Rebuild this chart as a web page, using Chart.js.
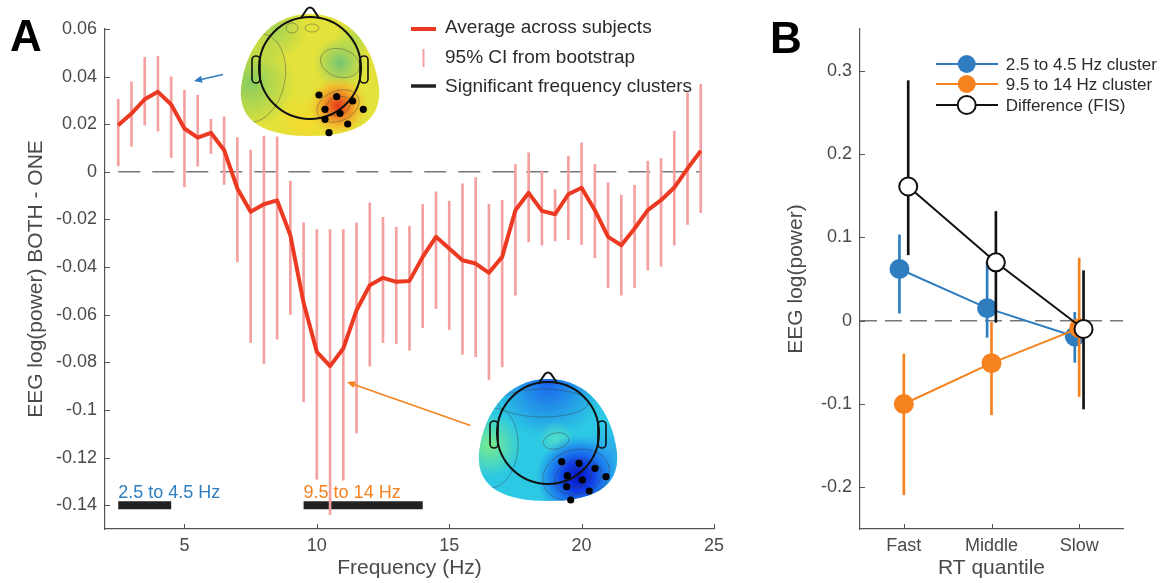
<!DOCTYPE html>
<html><head><meta charset="utf-8">
<script src="https://cdn.jsdelivr.net/npm/chart.js@4.4.0/dist/chart.umd.min.js"></script>
<style>
html,body{margin:0;padding:0;background:#fff;width:1161px;height:583px;overflow:hidden;}
#wa{position:absolute;left:0;top:0;width:760px;height:583px;}
#wb{position:absolute;left:760px;top:0;width:401px;height:583px;}
</style></head><body>
<div id="wa"><canvas id="ca" width="760" height="583"></canvas></div>
<div id="wb"><canvas id="cb" width="401" height="583"></canvas></div>
<script>
// ---------------- Panel A data ----------------
const freqA = [2.5,3,3.5,4,4.5,5,5.5,6,6.5,7,7.5,8,8.5,9,9.5,10,10.5,11,11.5,12,12.5,13,13.5,14,14.5,15,15.5,16,16.5,17,17.5,18,18.5,19,19.5,20,20.5,21,21.5,22,22.5,23,23.5,24,24.5];
const avgA = [0.0196,0.0245,0.0305,0.0336,0.0283,0.0182,0.0144,0.0164,0.0091,-0.0070,-0.0168,-0.0136,-0.0120,-0.0266,-0.0550,-0.0756,-0.0816,-0.0742,-0.0581,-0.0476,-0.0445,-0.0462,-0.0458,-0.0357,-0.0273,-0.0322,-0.0371,-0.0385,-0.0424,-0.0357,-0.0161,-0.0088,-0.0164,-0.0178,-0.0094,-0.0067,-0.0161,-0.0273,-0.0308,-0.0238,-0.0161,-0.0119,-0.0066,0.0014,0.0088];
const ciLowA = [0.0025,0.0108,0.0196,0.0171,0.0060,-0.0063,0.0024,0.0077,-0.0053,-0.0378,-0.0717,-0.0805,-0.0703,-0.0599,-0.0966,-0.1291,-0.1440,-0.1295,-0.1097,-0.0816,-0.0717,-0.0721,-0.0749,-0.0655,-0.0574,-0.0662,-0.0766,-0.0777,-0.0872,-0.0819,-0.0518,-0.0294,-0.0308,-0.0290,-0.0284,-0.0305,-0.0361,-0.0486,-0.0518,-0.0486,-0.0413,-0.0396,-0.0308,-0.0221,-0.0171];
const ciHighA = [0.0305,0.0378,0.0481,0.0486,0.0399,0.0343,0.0322,0.0221,0.0231,0.0144,0.0091,0.0150,0.0147,-0.0039,-0.0214,-0.0242,-0.0242,-0.0242,-0.0214,-0.0130,-0.0191,-0.0232,-0.0228,-0.0137,-0.0084,-0.0123,-0.0050,-0.0024,-0.0136,-0.0120,0.0031,0.0080,0.0004,-0.0074,0.0066,0.0122,0.0031,-0.0046,-0.0098,-0.0056,0.0045,0.0056,0.0171,0.0332,0.0368];
const clusterStartA = [2.5, 9.5];
const clusterEndA = [4.5, 14];
const clusterLevelA = -0.14;
const clusterLabelsA = ['2.5 to 4.5 Hz', '9.5 to 14 Hz'];
const xTicksA = [5, 10, 15, 20, 25];
const yTicksA = [-0.14, -0.12, -0.1, -0.08, -0.06, -0.04, -0.02, 0, 0.02, 0.04, 0.06];
const yTickLabelsA = ['-0.14', '-0.12', '-0.1', '-0.08', '-0.06', '-0.04', '-0.02', '0', '0.02', '0.04', '0.06'];
const legendLabelsA = ['Average across subjects', '95% CI from bootstrap', 'Significant frequency clusters'];

// ---------------- Panel B data ----------------
const categoriesB = ['Fast', 'Middle', 'Slow'];
const seriesNamesB = ['2.5 to 4.5 Hz cluster', '9.5 to 14 Hz cluster', 'Difference (FIS)'];
const lowBandB = [0.062, 0.015, -0.019];
const lowBandLoB = [0.009, -0.020, -0.050];
const lowBandHiB = [0.103, 0.070, 0.010];
const alphaBandB = [-0.100, -0.051, -0.009];
const alphaBandLoB = [-0.209, -0.113, -0.091];
const alphaBandHiB = [-0.040, -0.002, 0.075];
const diffB = [0.161, 0.070, -0.010];
const diffLoB = [0.079, -0.002, -0.106];
const diffHiB = [0.288, 0.131, 0.060];
const yTicksB = [-0.2, -0.1, 0, 0.1, 0.2, 0.3];
const yTickLabelsB = ['-0.2', '-0.1', '0', '0.1', '0.2', '0.3'];

// ---------------- styles ----------------
const FONT = "'Liberation Sans', Arial, Helvetica, sans-serif";
const TXT = '#4a4a4a';
const AX = '#555555';
const RED = '#ec3a22';
const PINK = '#f5a0a0';
const BLUE = '#2f7dbf';
const ORANGE = '#f5821f';
Chart.defaults.font.family = FONT;
Chart.defaults.color = TXT;

function labelFor(ticksArr, labelsArr) {
  return v => { const i = ticksArr.findIndex(t => Math.abs(t - v) < 1e-9); return i >= 0 ? labelsArr[i] : ''; };
}

const inwardTicks = {
  id: 'inwardTicks',
  afterDatasetsDraw(chart) {
    const {ctx, scales: {x, y}} = chart;
    ctx.save(); ctx.strokeStyle = AX; ctx.lineWidth = 1;
    x.ticks.forEach(t => { const p = Math.round(x.getPixelForValue(t.value)) + 0.5;
      ctx.beginPath(); ctx.moveTo(p, y.bottom); ctx.lineTo(p, y.bottom - 5); ctx.stroke(); });
    y.ticks.forEach(t => { const p = Math.round(y.getPixelForValue(t.value)) + 0.5;
      ctx.beginPath(); ctx.moveTo(x.left, p); ctx.lineTo(x.left + 5, p); ctx.stroke(); });
    ctx.restore();
  }
};

// topographic map inset (decorative)
function blob(ctx, cx, cy) {
  ctx.beginPath();
  ctx.moveTo(cx, cy - 54);
  ctx.bezierCurveTo(cx + 40, cy - 54, cx + 64, cy - 22, cx + 69, cy + 20);
  ctx.bezierCurveTo(cx + 72, cy + 56, cx + 42, cy + 68, cx, cy + 68);
  ctx.bezierCurveTo(cx - 42, cy + 68, cx - 72, cy + 56, cx - 69, cy + 20);
  ctx.bezierCurveTo(cx - 64, cy - 22, cx - 40, cy - 54, cx, cy - 54);
  ctx.closePath();
}
function spot(ctx, x, y, r, stops) {
  const g = ctx.createRadialGradient(x, y, 0, x, y, r);
  stops.forEach(s => g.addColorStop(s[0], s[1]));
  ctx.fillStyle = g; ctx.fillRect(x - r, y - r, 2 * r, 2 * r);
}
function ring(ctx, x, y, rx, ry, rot) {
  ctx.beginPath(); ctx.ellipse(x, y, rx, ry, rot || 0, 0, Math.PI * 2); ctx.stroke();
}
function drawTopo(ctx, cx, cy, kind, dots) {
  ctx.save();
  blob(ctx, cx, cy); ctx.clip();
  if (kind === 'warm') {
    ctx.fillStyle = '#e2e23a'; ctx.fillRect(cx - 80, cy - 60, 160, 135);
    spot(ctx, cx - 60, cy + 15, 45, [[0, 'rgba(120,200,100,0.85)'], [1, 'rgba(120,200,100,0)']]);
    spot(ctx, cx - 35, cy - 38, 32, [[0, 'rgba(140,205,95,0.7)'], [1, 'rgba(140,205,95,0)']]);
    spot(ctx, cx + 30, cy - 5, 26, [[0, 'rgba(105,195,120,0.9)'], [1, 'rgba(105,195,120,0)']]);
    spot(ctx, cx + 45, cy - 30, 20, [[0, 'rgba(150,210,90,0.6)'], [1, 'rgba(150,210,90,0)']]);
    spot(ctx, cx - 5, cy + 55, 30, [[0, 'rgba(250,215,40,0.8)'], [1, 'rgba(250,215,40,0)']]);
    spot(ctx, cx + 28, cy + 38, 30, [[0, '#e43a1a'], [0.35, '#ef7a20'], [0.7, 'rgba(245,180,40,0.7)'], [1, 'rgba(245,200,50,0)']]);
    ctx.strokeStyle = 'rgba(70,70,70,0.55)'; ctx.lineWidth = 0.8;
    ring(ctx, cx + 28, cy + 38, 13, 9, -0.4); ring(ctx, cx + 28, cy + 38, 22, 15, -0.4);
    ring(ctx, cx + 30, cy - 5, 20, 14, 0.3); ring(ctx, cx - 18, cy - 40, 6, 5); ring(ctx, cx + 2, cy - 40, 7, 4);
    ring(ctx, cx - 55, cy + 10, 30, 45, 0.2);
  } else {
    ctx.fillStyle = '#2cc8e4'; ctx.fillRect(cx - 80, cy - 60, 160, 135);
    spot(ctx, cx, cy - 50, 55, [[0, 'rgba(25,95,235,0.95)'], [1, 'rgba(25,95,235,0)']]);
    spot(ctx, cx - 58, cy + 12, 32, [[0, 'rgba(130,240,130,0.9)'], [1, 'rgba(130,240,130,0)']]);
    spot(ctx, cx + 8, cy + 5, 18, [[0, 'rgba(90,225,190,0.8)'], [1, 'rgba(90,225,190,0)']]);
    spot(ctx, cx + 62, cy + 22, 30, [[0, 'rgba(45,150,240,0.7)'], [1, 'rgba(45,150,240,0)']]);
    spot(ctx, cx + 30, cy + 44, 42, [[0, '#0812c0'], [0.35, '#0f3ee8'], [0.7, 'rgba(25,110,240,0.7)'], [1, 'rgba(30,140,240,0)']]);
    ctx.strokeStyle = 'rgba(60,60,60,0.5)'; ctx.lineWidth = 0.8;
    ring(ctx, cx + 30, cy + 44, 14, 10, -0.3); ring(ctx, cx + 30, cy + 44, 24, 17, -0.3); ring(ctx, cx + 28, cy + 42, 34, 25, -0.3);
    ring(ctx, cx + 8, cy + 8, 13, 8, -0.2); ring(ctx, cx - 55, cy + 15, 25, 40, 0.1); ring(ctx, cx - 5, cy - 30, 45, 14, 0);
  }
  ctx.restore();
  ctx.save();
  ctx.strokeStyle = '#111'; ctx.lineWidth = 2;
  ctx.beginPath(); ctx.arc(cx, cy, 51, 0, Math.PI * 2); ctx.stroke();
  ctx.beginPath(); ctx.moveTo(cx - 9, cy - 50); ctx.lineTo(cx - 3, cy - 59); ctx.quadraticCurveTo(cx, cy - 62, cx + 3, cy - 59); ctx.lineTo(cx + 9, cy - 50); ctx.stroke();
  ctx.lineWidth = 1.6;
  [[cx - 58, cy - 12], [cx + 50, cy - 12]].forEach(p => {
    ctx.beginPath(); ctx.roundRect(p[0], p[1], 8, 27, 4); ctx.stroke();
  });
  ctx.fillStyle = '#000';
  dots.forEach(d => { ctx.beginPath(); ctx.arc(cx + d[0], cy + d[1], 3.6, 0, Math.PI * 2); ctx.fill(); });
  ctx.restore();
}
function arrow(ctx, x0, y0, x1, y1, color) {
  ctx.save(); ctx.strokeStyle = color; ctx.fillStyle = color; ctx.lineWidth = 1.6;
  const a = Math.atan2(y1 - y0, x1 - x0);
  ctx.beginPath(); ctx.moveTo(x0, y0); ctx.lineTo(x1 - 5 * Math.cos(a), y1 - 5 * Math.sin(a)); ctx.stroke();
  ctx.beginPath(); ctx.moveTo(x1, y1);
  ctx.lineTo(x1 - 8 * Math.cos(a) + 3.5 * Math.sin(a), y1 - 8 * Math.sin(a) - 3.5 * Math.cos(a));
  ctx.lineTo(x1 - 8 * Math.cos(a) - 3.5 * Math.sin(a), y1 - 8 * Math.sin(a) + 3.5 * Math.cos(a));
  ctx.closePath(); ctx.fill(); ctx.restore();
}

const panelAExtras = {
  id: 'panelAExtras',
  beforeDatasetsDraw(chart) {
    const {ctx, scales: {x, y}} = chart;
    ctx.save(); ctx.font = '18px ' + FONT; ctx.textBaseline = 'alphabetic';
    clusterLabelsA.forEach((t, i) => {
      ctx.fillStyle = i === 0 ? BLUE : ORANGE;
      ctx.fillText(t, x.getPixelForValue(clusterStartA[i]), y.getPixelForValue(clusterLevelA) - 7);
    });
    ctx.restore();
  },
  afterDraw(chart) {
    const ctx = chart.ctx;
    drawTopo(ctx, 310, 68, 'warm', [[9,27],[26.7,28.7],[42.7,33],[15,41.3],[30,45.3],[53.3,41.3],[15,51.3],[37.7,56],[19,64.7]]);
    drawTopo(ctx, 548, 433, 'cold', [[13.7,28.7],[31,30.3],[47,35.3],[19.3,42.7],[34.3,47],[58,43.7],[18.7,53.7],[41.3,58],[22.7,67]]);
    arrow(ctx, 223, 74.5, 194, 81, BLUE);
    arrow(ctx, 470.5, 425.5, 347, 382, ORANGE);
    // legend
    ctx.save();
    ctx.lineCap = 'butt';
    ctx.strokeStyle = RED; ctx.lineWidth = 4; ctx.beginPath(); ctx.moveTo(411, 29); ctx.lineTo(436, 29); ctx.stroke();
    ctx.strokeStyle = PINK; ctx.lineWidth = 2; ctx.beginPath(); ctx.moveTo(423.5, 49); ctx.lineTo(423.5, 67); ctx.stroke();
    ctx.strokeStyle = '#222'; ctx.lineWidth = 3.5; ctx.beginPath(); ctx.moveTo(411, 86); ctx.lineTo(436, 86); ctx.stroke();
    ctx.fillStyle = '#2b2b2b'; ctx.font = '19px ' + FONT; ctx.textBaseline = 'alphabetic';
    [33.3, 62.7, 91.7].forEach((b, i) => ctx.fillText(legendLabelsA[i], 445, b));
    ctx.fillStyle = '#000'; ctx.font = 'bold 44px ' + FONT;
    ctx.fillText('A', 10, 51);
    ctx.restore();
  }
};

const panelBExtras = {
  id: 'panelBExtras',
  afterDraw(chart) {
    const ctx = chart.ctx;
    ctx.save();
    const rows = [[64, BLUE, BLUE], [84, ORANGE, ORANGE], [105, '#111', '#fff']];
    rows.forEach((r, i) => {
      ctx.strokeStyle = r[1]; ctx.lineWidth = 2; ctx.beginPath(); ctx.moveTo(176, r[0]); ctx.lineTo(238, r[0]); ctx.stroke();
      ctx.fillStyle = r[2]; ctx.beginPath(); ctx.arc(206.7, r[0], 9, 0, Math.PI * 2); ctx.fill();
      if (i === 2) { ctx.lineWidth = 2; ctx.stroke(); }
      ctx.fillStyle = '#2b2b2b'; ctx.font = '17px ' + FONT; ctx.textBaseline = 'alphabetic';
      ctx.fillText(seriesNamesB[i], 245.7, r[0] + 6);
    });
    ctx.fillStyle = '#000'; ctx.font = 'bold 44px ' + FONT;
    ctx.fillText('B', 10, 53);
    ctx.restore();
  }
};

function baseScales(xmin, xmax, xTicks, xLabel, ymin, ymax, yTicks, yLabels, yTitle, yWidth, xFmt) {
  return {
    x: {
      type: 'linear', min: xmin, max: xmax, offset: false,
      afterBuildTicks: s => { s.ticks = xTicks.map(v => ({value: v})); },
      afterFit: s => { s.height = 54; },
      grid: {display: false, drawTicks: false},
      border: {display: true, color: AX, width: 1.2},
      ticks: {font: {size: 18}, color: TXT, padding: 6, maxRotation: 0, autoSkip: false, callback: xFmt},
      title: {display: true, text: xLabel, font: {size: 21}, color: TXT, padding: {top: 0, bottom: 2}}
    },
    y: {
      type: 'linear', min: ymin, max: ymax,
      afterBuildTicks: s => { s.ticks = yTicks.map(v => ({value: v})); },
      afterFit: s => { s.width = yWidth; },
      grid: {display: false, drawTicks: false},
      border: {display: true, color: AX, width: 1.2},
      ticks: {font: {size: 18}, color: TXT, padding: 8, autoSkip: false, callback: labelFor(yTicks, yLabels)},
      title: {display: true, text: yTitle, font: {size: 21}, color: TXT, padding: {top: 24, bottom: 0}}
    }
  };
}

// ---------------- Chart A ----------------
new Chart(document.getElementById('ca'), {
  type: 'line',
  data: {
    datasets: [
      {type: 'line', label: 'avg', data: freqA.map((f, i) => ({x: f, y: avgA[i]})), borderColor: RED, borderWidth: 4, pointRadius: 0, tension: 0, order: 0, borderJoinStyle: 'round'},
      {type: 'bar', label: 'ci', data: freqA.map((f, i) => ({x: f, y: [ciLowA[i], ciHighA[i]]})), backgroundColor: PINK, borderWidth: 0, barThickness: 2, grouped: false, order: 1},
      ...clusterStartA.map((s, i) => ({type: 'line', label: 'cl' + i, data: [{x: s, y: clusterLevelA}, {x: clusterEndA[i], y: clusterLevelA}], borderColor: '#222', borderWidth: 8, borderCapStyle: 'butt', pointRadius: 0, order: 2})),
      {type: 'line', label: 'zero', data: [{x: freqA[0], y: 0}, {x: freqA[freqA.length - 1], y: 0}], borderColor: '#777', borderWidth: 1.5, borderDash: [22, 12], pointRadius: 0, order: 3}
    ]
  },
  options: {
    responsive: false, animation: false, devicePixelRatio: 1,
    layout: {padding: {left: 0, right: 46, top: 29, bottom: 0}},
    plugins: {legend: {display: false}, tooltip: {enabled: false}},
    scales: baseScales(2, 25, xTicksA, 'Frequency (Hz)', -0.15, 0.06, yTicksA, yTickLabelsA, 'EEG log(power) BOTH - ONE', 105, v => String(v))
  },
  plugins: [panelAExtras, inwardTicks]
});

// ---------------- Chart B ----------------
const offsB = [-0.05, 0, 0.05];
function seriesB(vals, lo, hi, k, color, fill, ord) {
  return [
    {type: 'bar', data: vals.map((v, i) => ({x: i + 1 + offsB[k], y: [lo[i], hi[i]]})), backgroundColor: color, borderWidth: 0, barThickness: 2, grouped: false, order: ord + 1},
    {type: 'line', data: vals.map((v, i) => ({x: i + 1 + offsB[k], y: v})), borderColor: color, borderWidth: 2, tension: 0,
      pointRadius: 9, pointBackgroundColor: fill, pointBorderColor: color, pointBorderWidth: 2, order: ord}
  ];
}
new Chart(document.getElementById('cb'), {
  type: 'line',
  data: {
    datasets: [
      ...seriesB(diffB, diffLoB, diffHiB, 2, '#111', '#fff', 0),
      ...seriesB(alphaBandB, alphaBandLoB, alphaBandHiB, 1, ORANGE, ORANGE, 2),
      ...seriesB(lowBandB, lowBandLoB, lowBandHiB, 0, BLUE, BLUE, 4),
      {type: 'line', data: [{x: 0.5, y: 0}, {x: 3.5, y: 0}], borderColor: '#777', borderWidth: 1.5, borderDash: [17, 8], pointRadius: 0, order: 9}
    ]
  },
  options: {
    responsive: false, animation: false, devicePixelRatio: 1,
    layout: {padding: {left: 0, right: 38, top: 29, bottom: 0}},
    plugins: {legend: {display: false}, tooltip: {enabled: false}},
    scales: baseScales(0.5, 3.5, [1, 2, 3], 'RT quantile', -0.25, 0.35, yTicksB, yTickLabelsB, 'EEG log(power)', 100, v => categoriesB[Math.round(v) - 1] || '')
  },
  plugins: [panelBExtras, inwardTicks]
});
</script>
</body></html>
